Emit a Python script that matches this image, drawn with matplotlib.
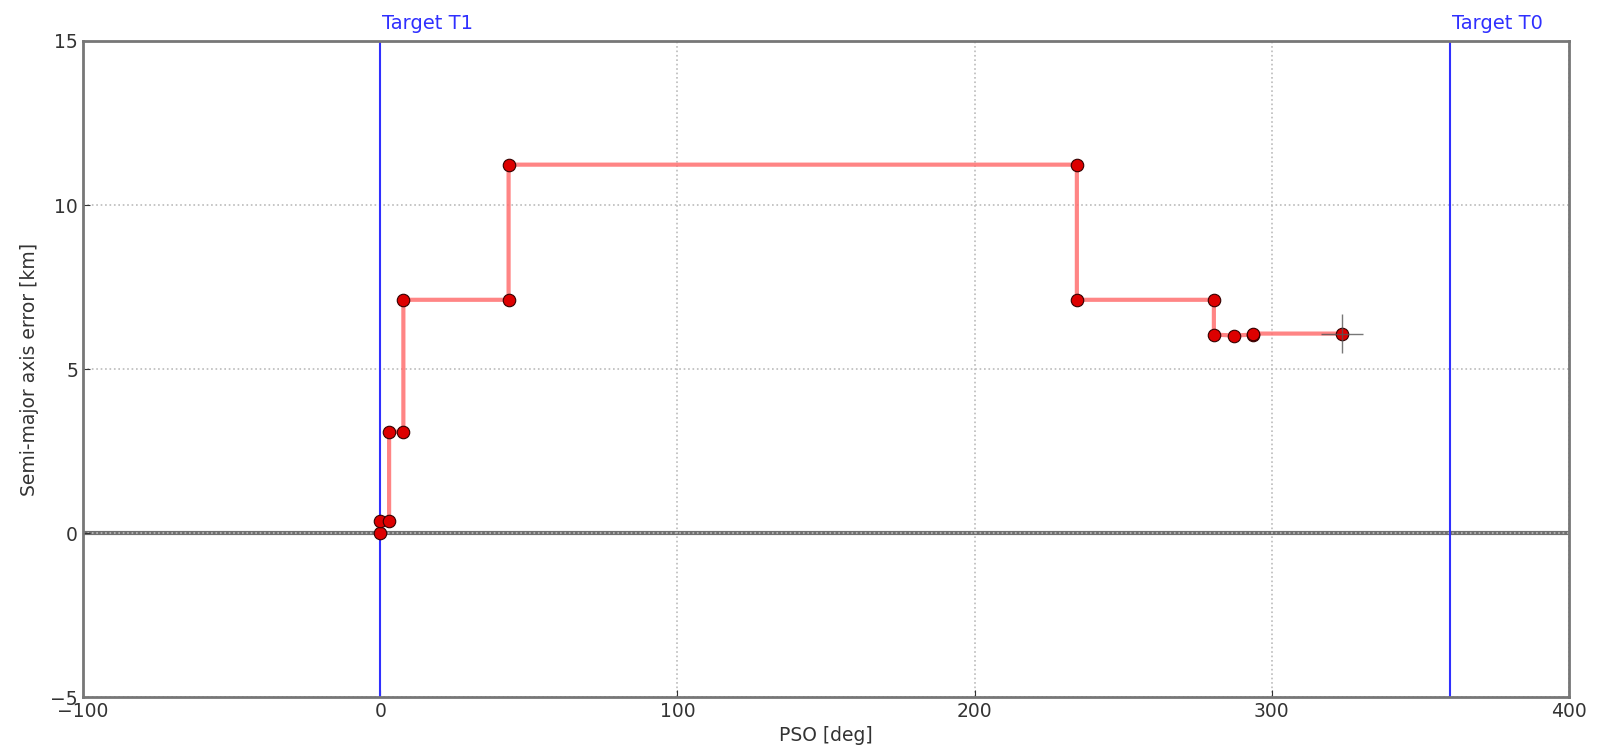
import matplotlib
matplotlib.use("Agg")
import matplotlib.pyplot as plt

# Data
pso = [0.0, 0.0, 3.0, 3.0, 7.8, 7.8, 43.2, 43.2, 234.4, 234.4, 280.5, 280.5, 287.4, 293.6, 293.6, 323.6]
sma_err = [0.0, 0.37, 0.37, 3.09, 3.09, 7.11, 7.11, 11.23, 11.23, 7.11, 7.11, 6.05, 6.02, 6.05, 6.08, 6.08]
last_xerr = 7.0
last_yerr = 0.6
targets = [0.0, 360.0]
target_labels = ["Target T1", "Target T0"]

fig = plt.figure(figsize=(16.05, 7.55), dpi=100)
ax = fig.add_axes([0.0517, 0.0768, 0.9259, 0.8689])

ax.axhline(0, color="#707070", lw=3, zorder=1)
for t, lab in zip(targets, target_labels):
    ax.axvline(t, color="#3030ff", lw=1.5, zorder=2)
    ax.text(t + 0.5, 15.25, lab, color="#3030ff", fontsize=14, ha="left", va="bottom")

ax.plot(pso, sma_err, color="#ff7070", lw=3, alpha=0.85, zorder=3)
ax.plot(pso, sma_err, "o", color="#dd0000", mec="#330000", mew=0.8, ms=9, zorder=4)
ax.errorbar([pso[-1]], [sma_err[-1]], xerr=[last_xerr], yerr=[last_yerr], fmt="none",
            ecolor="#555555", elinewidth=1.0, alpha=0.8, zorder=5)

ax.set_xlim(-100, 400)
ax.set_ylim(-5, 15)
ax.set_xticks([-100, 0, 100, 200, 300, 400])
ax.set_xticklabels(["\u2212100", "0", "100", "200", "300", "400"])
ax.set_yticks([-5, 0, 5, 10, 15])
ax.set_yticklabels(["\u22125", "0", "5", "10", "15"])
ax.grid(True, color="#bbbbbb", linestyle=":", lw=1.2)
ax.tick_params(direction="in", length=5, labelsize=13.5, colors="#333333")
for s in ax.spines.values():
    s.set_color("#777777")
    s.set_linewidth(2)
ax.set_xlabel("PSO [deg]", fontsize=13.5, color="#333333", labelpad=4)
ax.set_ylabel("Semi-major axis error [km]", fontsize=13.5, color="#333333", labelpad=8)

fig.savefig("out.png", dpi=100)
